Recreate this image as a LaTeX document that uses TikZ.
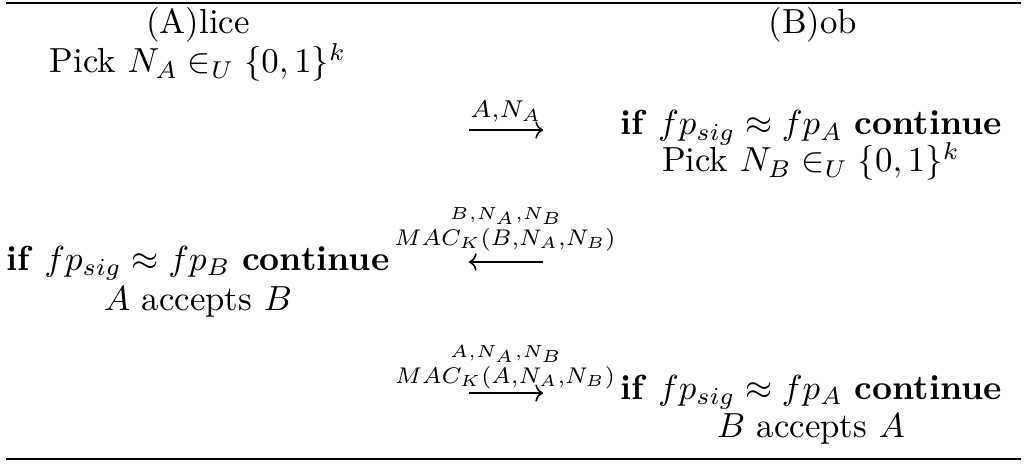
\documentclass[tikz,border=0pt]{standalone}
\usepackage{amsmath}
\usepackage{graphicx}
\usetikzlibrary{arrows.meta}
\begin{document}
\begin{tikzpicture}[x=0.2873pt,y=-0.2873pt,
  txt/.style={inner sep=0pt, anchor=base},
  lbl/.style={inner sep=0pt, anchor=base},
  rulel/.style={line width=0.8pt},
  msg/.style={line width=0.45pt, -{To[length=2.2pt,width=5pt]}}]
\useasboundingbox (0,0) rectangle (1026,468);
% rules
\coordinate (tl) at (6,3);
\coordinate (tr) at (1021,3);
\coordinate (bl) at (6,459);
\coordinate (br) at (1021,459);
\draw[rulel] (tl) -- (tr);
\draw[rulel] (bl) -- (br);
% headers
\node[txt] (alice) at (198,34) {(A)lice};
\node[txt] (bob) at (813,34) {(B)ob};
\node[txt] (pickA) at (198,73) {Pick $N_A \in_U \{0,1\}^k$};
% message 1
\coordinate (m1s) at (469,130);
\coordinate (m1e) at (543,130);
\draw[msg] (m1s) -- (m1e);
\node[lbl] (l1) at (506,118) {$\scriptstyle A,N_A$};
\node[txt] (ifA1) at (811,135) {\textbf{if} $fp_{sig} \approx fp_A$ \textbf{continue}};
\node[txt] (pickB) at (811,172) {Pick $N_B \in_U \{0,1\}^k$};
% message 2
\coordinate (m2s) at (543,262);
\coordinate (m2e) at (469,262);
\draw[msg] (m2s) -- (m2e);
\node[lbl] (l2a) at (506,219) {$\scriptscriptstyle B,N_A,N_B$};
\node[lbl] (l2b) at (505,245) {\scalebox{0.93}{$\scriptstyle MAC_K(B,N_A,N_B)$}};
\node[txt] (ifB) at (198,270) {\textbf{if} $fp_{sig} \approx fp_B$ \textbf{continue}};
\node[txt] (accB) at (198,310) {$A$ accepts $B$};
% message 3
\coordinate (m3s) at (469,393);
\coordinate (m3e) at (543,393);
\draw[msg] (m3s) -- (m3e);
\node[lbl] (l3a) at (506,357) {$\scriptscriptstyle A,N_A,N_B$};
\node[lbl] (l3b) at (505,383) {\scalebox{0.93}{$\scriptstyle MAC_K(A,N_A,N_B)$}};
\node[txt] (ifA2) at (811,399) {\textbf{if} $fp_{sig} \approx fp_A$ \textbf{continue}};
\node[txt] (accA) at (811,437) {$B$ accepts $A$};
\end{tikzpicture}
\end{document}
